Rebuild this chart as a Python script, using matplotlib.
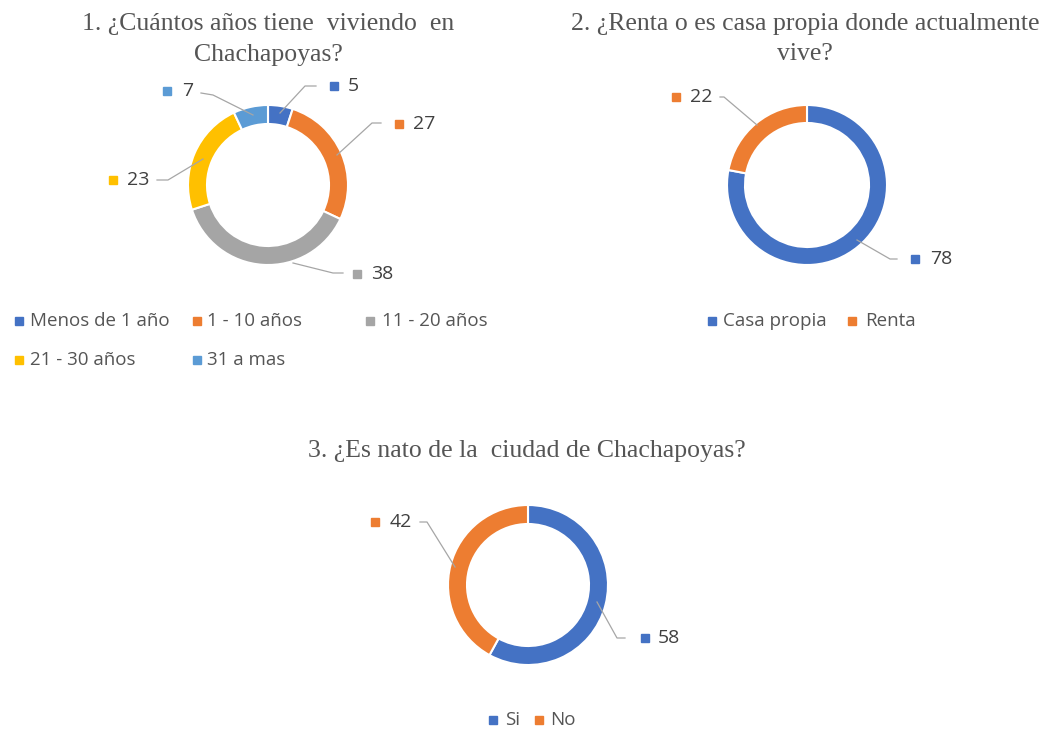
import matplotlib.pyplot as plt

# datos de las tres preguntas
anios_labels = ['Menos de 1 año', '1 - 10 años', '11 - 20 años', '21 - 30 años', '31 a mas']
anios_values = [5, 27, 38, 23, 7]
renta_labels = ['Casa propia', 'Renta']
renta_values = [78, 22]
nato_labels = ['Si', 'No']
nato_values = [58, 42]

BLUE, ORANGE, GRAY, YELLOW, LBLUE = '#4472C4', '#ED7D31', '#A5A5A5', '#FFC000', '#5B9BD5'
anios_colors = [BLUE, ORANGE, GRAY, YELLOW, LBLUE]
renta_colors = [BLUE, ORANGE]
nato_colors = [BLUE, ORANGE]

W, H = 1056, 731
TITLE_C = '#555555'
LABEL_C = '#404040'
LINE_C = '#A6A6A6'
SERIF = 'Liberation Serif'
SANS = 'Open Sans'

fig = plt.figure(figsize=(W / 100, H / 100), dpi=100)
ax = fig.add_axes([0, 0, 1, 1])


def Y(y):
    # coordenadas tipo pixel, y hacia abajo
    return H - y


def donut(values, colors, cx, cy, r=80, width=19):
    ax.pie(values, colors=colors, startangle=90, counterclock=False,
           center=(cx, Y(cy)), radius=r,
           wedgeprops=dict(width=width, edgecolor='white', linewidth=1.5))


def data_labels(values, colors, layout):
    # layout: (puntos de la linea guia, x del marcador, x del texto, y)
    for v, c, (pts, mx, tx, ty) in zip(values, colors, layout):
        ax.plot([p[0] for p in pts], [Y(p[1]) for p in pts], color=LINE_C, lw=0.9)
        ax.plot(mx, Y(ty), 's', color=c, ms=6)
        ax.text(tx, Y(ty), str(v), color=LABEL_C, fontsize=14, family=SANS,
                va='center', ha='left')


def legend(labels, colors, layout):
    for lab, c, (mx, tx, ty) in zip(labels, colors, layout):
        ax.plot(mx, Y(ty), 's', color=c, ms=6)
        ax.text(tx, Y(ty), lab, color=TITLE_C, fontsize=13.5, family=SANS,
                va='center', ha='left')


def title(lines, cx, ys):
    for t, y in zip(lines, ys):
        ax.text(cx, Y(y), t, color=TITLE_C, fontsize=18.5, family=SERIF,
                ha='center', va='baseline')


# 1. años viviendo
donut(anios_values, anios_colors, 268, 185)
title(['1. ¿Cuántos años tiene  viviendo  en', 'Chachapoyas?'], 268, [30, 61])
data_labels(anios_values, anios_colors, [
    ([(280, 113), (305, 86), (316, 86)], 334, 348, 86),
    ([(337, 155), (372, 123), (381, 123)], 399, 413, 124),
    ([(293, 263), (333, 273), (343, 273)], 357, 371, 274),
    ([(203, 159), (168, 180), (157, 180)], 113, 127, 180),
    ([(253, 115), (213, 95), (201, 93)], 167, 182, 91),
])
legend(anios_labels, anios_colors, [
    (18.5, 30, 321), (196.5, 207, 321), (370, 382, 321),
    (18.5, 30, 360), (196.5, 207, 360),
])

# 2. renta o casa propia
donut(renta_values, renta_colors, 807, 185, width=18)
title(['2. ¿Renta o es casa propia donde actualmente', 'vive?'], 805, [30, 60])
data_labels(renta_values, renta_colors, [
    ([(857, 240), (890, 259), (897, 259)], 915, 930, 259),
    ([(720, 97), (724, 97), (757, 125)], 676, 690, 97),
])
legend(renta_labels, renta_colors, [(712, 723, 321), (852, 865, 321)])

# 3. nato de Chachapoyas
donut(nato_values, nato_colors, 528, 585)
title(['3. ¿Es nato de la  ciudad de Chachapoyas?'], 527, [457])
data_labels(nato_values, nato_colors, [
    ([(597, 602), (617, 638), (625, 638)], 645, 658, 638),
    ([(420, 522), (427, 522), (455, 567)], 375, 390, 522),
])
legend(nato_labels, nato_colors, [(493, 505, 720), (539, 550, 720)])

ax.set_xlim(0, W)
ax.set_ylim(0, H)
ax.axis('off')

fig.savefig('out.png', dpi=100, facecolor='white')
